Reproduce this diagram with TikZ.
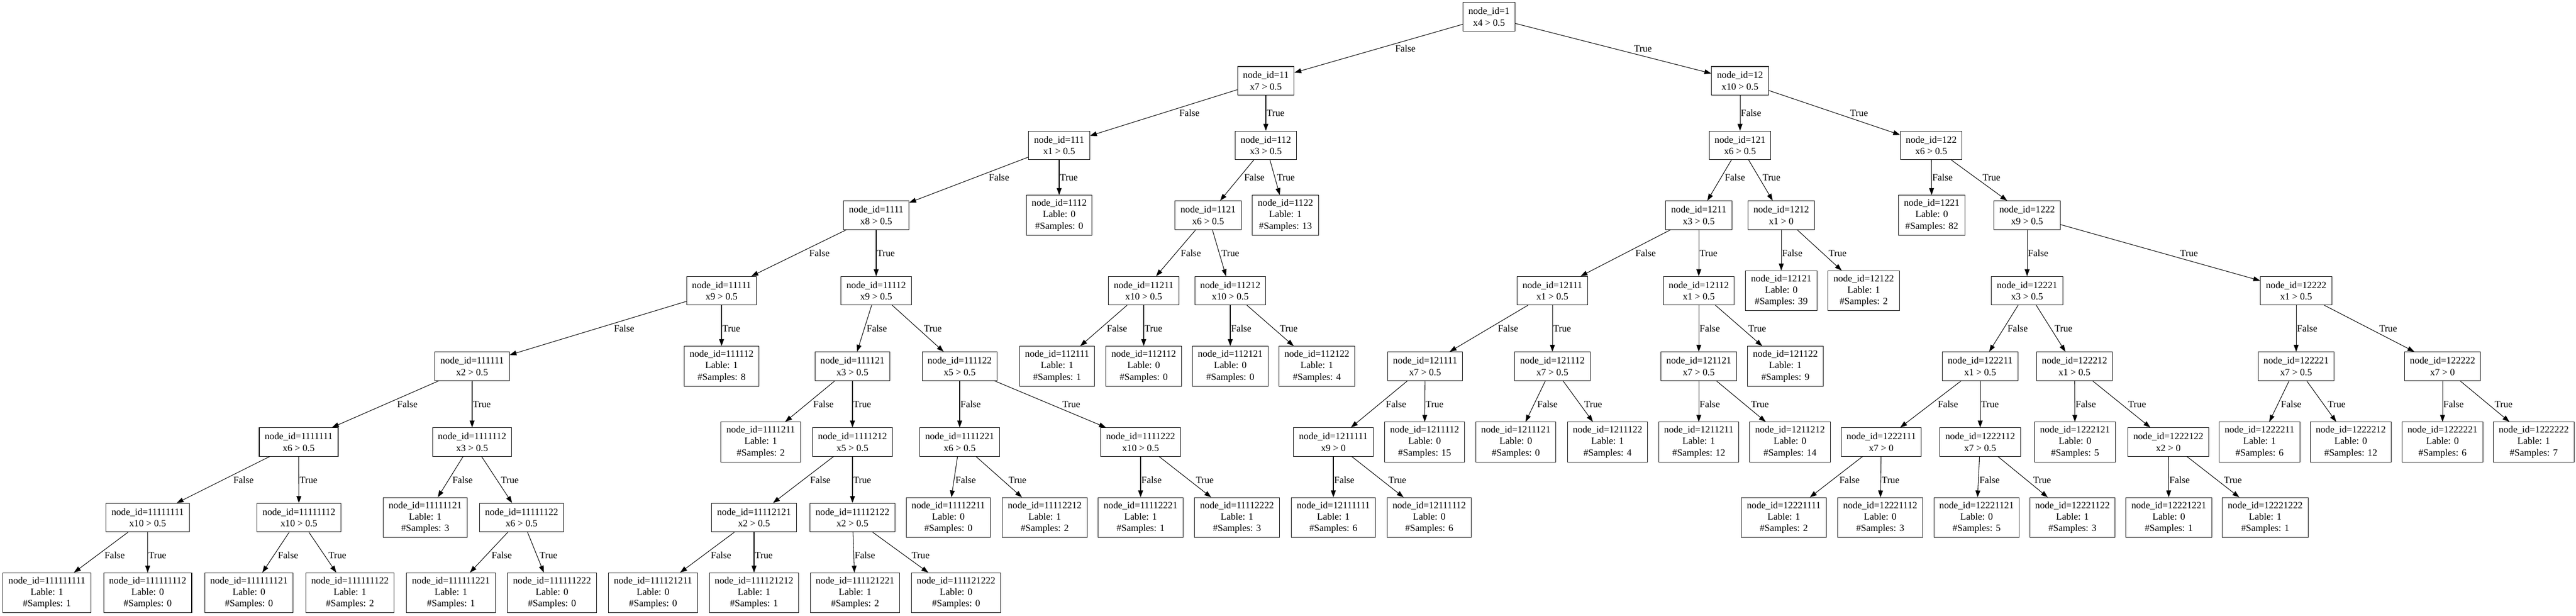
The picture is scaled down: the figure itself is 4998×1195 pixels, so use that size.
\documentclass[tikz,border=0pt]{standalone}
\usepackage{fontspec}
\setmainfont{Liberation Serif}
\usetikzlibrary{arrows.meta,calc}
\tikzset{
  tbox/.style={draw, line width=0.8pt, rectangle, align=center, inner xsep=7.92pt, inner ysep=0pt, font=\fontsize{14}{16.8}\selectfont},
  dec/.style={tbox, minimum height=41.5pt},
  leaf/.style={tbox, minimum height=58pt},
  edge/.style={draw, line width=0.8pt, -{Triangle[length=10pt,width=7pt]}},
  lbl/.style={inner sep=0pt, font=\fontsize{14}{16.8}\selectfont, anchor=west}
}
\newcommand\DNode[4]{\node[dec] (n#1) at (#2,#3) {node\_id=#1\\#4};}
\newcommand\LNode[5]{\node[leaf] (n#1) at (#2,#3) {node\_id=#1\\Lable: #4\\\#Samples: #5};}
\newcommand\TEdge[4]{%
  \draw[edge] (n#1) -- (n#2);
  \path let \p1=(n#1.center), \p2=(n#2.center),
    \n1={-0.75pt*#4},
    \n2={\x1+((\n1+7)-\y1)/(\y2-\y1)*(\x2-\x1)},
    \n3={\x1+((\n1-7)-\y1)/(\y2-\y1)*(\x2-\x1)},
    \n4={max(\n2,\n3)+1}
  in node[lbl] at (\n4,\n1) {#3};
}
\newcommand\Split[4]{\TEdge{#1}{#2}{False}{#4}\TEdge{#1}{#3}{True}{#4}}
\begin{document}
\begin{tikzpicture}[x=0.75pt,y=-0.75pt]
\useasboundingbox (0,0) rectangle (4998,1195);
\def\ya{32.5}\def\yb{156.7}\def\yc{282}\def\yd{417.5}\def\ye{564}\def\yf{710.5}\def\yg{857.5}\def\yh{1004}\def\yi{1150}
% rank 0
\DNode{1}{2889}{\ya}{x4 > 0.5}
% rank 1
\DNode{11}{2456}{\yb}{x7 > 0.5}
\DNode{12}{3376}{\yb}{x10 > 0.5}
% rank 2
\DNode{111}{2055}{\yc}{x1 > 0.5}
\DNode{112}{2456}{\yc}{x3 > 0.5}
\DNode{121}{3376}{\yc}{x6 > 0.5}
\DNode{122}{3747}{\yc}{x6 > 0.5}
% rank 3
\DNode{1111}{1700}{\yd}{x8 > 0.5}
\LNode{1112}{2055}{\yd}{0}{0}
\DNode{1121}{2344}{\yd}{x6 > 0.5}
\LNode{1122}{2494}{\yd}{1}{13}
\DNode{1211}{3296}{\yd}{x3 > 0.5}
\DNode{1212}{3456}{\yd}{x1 > 0}
\LNode{1221}{3748}{\yd}{0}{82}
\DNode{1222}{3933}{\yd}{x9 > 0.5}
% rank 4
\DNode{11111}{1400}{\ye}{x9 > 0.5}
\DNode{11112}{1700}{\ye}{x9 > 0.5}
\DNode{11211}{2219}{\ye}{x10 > 0.5}
\DNode{11212}{2387}{\ye}{x10 > 0.5}
\DNode{12111}{3012}{\ye}{x1 > 0.5}
\DNode{12112}{3296}{\ye}{x1 > 0.5}
\LNode{12121}{3456}{\ye}{0}{39}
\LNode{12122}{3616}{\ye}{1}{2}
\DNode{12221}{3933}{\ye}{x3 > 0.5}
\DNode{12222}{4455}{\ye}{x1 > 0.5}
% rank 5
\DNode{111111}{916}{\yf}{x2 > 0.5}
\LNode{111112}{1400}{\yf}{1}{8}
\DNode{111121}{1654}{\yf}{x3 > 0.5}
\DNode{111122}{1862}{\yf}{x5 > 0.5}
\LNode{112111}{2051}{\yf}{1}{1}
\LNode{112112}{2219}{\yf}{0}{0}
\LNode{112121}{2387}{\yf}{0}{0}
\LNode{112122}{2555}{\yf}{1}{4}
\DNode{121111}{2765}{\yf}{x7 > 0.5}
\DNode{121112}{3012}{\yf}{x7 > 0.5}
\DNode{121121}{3296}{\yf}{x7 > 0.5}
\LNode{121122}{3464}{\yf}{1}{9}
\DNode{122211}{3842}{\yf}{x1 > 0.5}
\DNode{122212}{4025}{\yf}{x1 > 0.5}
\DNode{122221}{4455}{\yf}{x7 > 0.5}
\DNode{122222}{4739}{\yf}{x7 > 0}
% rank 6
\DNode{1111111}{579.5}{\yg}{x6 > 0.5}
\DNode{1111112}{916}{\yg}{x3 > 0.5}
\LNode{1111211}{1476}{\yg}{1}{2}
\DNode{1111212}{1654}{\yg}{x5 > 0.5}
\DNode{1111221}{1862}{\yg}{x6 > 0.5}
\DNode{1111222}{2213}{\yg}{x10 > 0.5}
\DNode{1211111}{2587}{\yg}{x9 > 0}
\LNode{1211112}{2764}{\yg}{0}{15}
\LNode{1211121}{2941}{\yg}{0}{0}
\LNode{1211122}{3119}{\yg}{1}{4}
\LNode{1211211}{3296}{\yg}{1}{12}
\LNode{1211212}{3473}{\yg}{0}{14}
\DNode{1222111}{3650}{\yg}{x7 > 0}
\DNode{1222112}{3842}{\yg}{x7 > 0.5}
\LNode{1222121}{4026}{\yg}{0}{5}
\DNode{1222122}{4207}{\yg}{x2 > 0}
\LNode{1222211}{4384}{\yg}{1}{6}
\LNode{1222212}{4561}{\yg}{0}{12}
\LNode{1222221}{4739}{\yg}{0}{6}
\LNode{1222222}{4916}{\yg}{1}{7}
% rank 7
\DNode{11111111}{286.5}{\yh}{x10 > 0.5}
\DNode{11111112}{580}{\yh}{x10 > 0.5}
\LNode{11111121}{825}{\yh}{1}{3}
\DNode{11111122}{1012}{\yh}{x6 > 0.5}
\DNode{11112121}{1463}{\yh}{x2 > 0.5}
\DNode{11112122}{1654}{\yh}{x2 > 0.5}
\LNode{11112211}{1840}{\yh}{0}{0}
\LNode{11112212}{2027}{\yh}{1}{2}
\LNode{11112221}{2213}{\yh}{1}{1}
\LNode{11112222}{2400}{\yh}{1}{3}
\LNode{12111111}{2587}{\yh}{1}{6}
\LNode{12111112}{2773}{\yh}{0}{6}
\LNode{12221111}{3461}{\yh}{1}{2}
\LNode{12221112}{3648}{\yh}{0}{3}
\LNode{12221121}{3835}{\yh}{0}{5}
\LNode{12221122}{4021}{\yh}{1}{3}
\LNode{12221221}{4208}{\yh}{0}{1}
\LNode{12221222}{4395}{\yh}{1}{1}
% rank 8
\LNode{111111111}{91}{\yi}{1}{1}
\LNode{111111112}{286.5}{\yi}{0}{0}
\LNode{111111121}{483}{\yi}{0}{0}
\LNode{111111122}{679}{\yi}{1}{2}
\LNode{111111221}{875}{\yi}{1}{1}
\LNode{111111222}{1071}{\yi}{0}{0}
\LNode{111121211}{1267}{\yi}{0}{0}
\LNode{111121212}{1463}{\yi}{1}{1}
\LNode{111121221}{1659}{\yi}{1}{2}
\LNode{111121222}{1855}{\yi}{0}{0}
% edges
\Split{1}{11}{12}{94.5}
\Split{11}{111}{112}{219}
\Split{12}{121}{122}{219}
\Split{111}{1111}{1112}{344}
\Split{112}{1121}{1122}{344}
\Split{121}{1211}{1212}{344}
\Split{122}{1221}{1222}{344}
\Split{1111}{11111}{11112}{491}
\Split{1121}{11211}{11212}{491}
\Split{1211}{12111}{12112}{491}
\Split{1212}{12121}{12122}{491}
\Split{1222}{12221}{12222}{491}
\Split{11111}{111111}{111112}{637}
\Split{11112}{111121}{111122}{637}
\Split{11211}{112111}{112112}{637}
\Split{11212}{112121}{112122}{637}
\Split{12111}{121111}{121112}{637}
\Split{12112}{121121}{121122}{637}
\Split{12221}{122211}{122212}{637}
\Split{12222}{122221}{122222}{637}
\Split{111111}{1111111}{1111112}{784}
\Split{111121}{1111211}{1111212}{784}
\Split{111122}{1111221}{1111222}{784}
\Split{121111}{1211111}{1211112}{784}
\Split{121112}{1211121}{1211122}{784}
\Split{121121}{1211211}{1211212}{784}
\Split{122211}{1222111}{1222112}{784}
\Split{122212}{1222121}{1222122}{784}
\Split{122221}{1222211}{1222212}{784}
\Split{122222}{1222221}{1222222}{784}
\Split{1111111}{11111111}{11111112}{931}
\Split{1111112}{11111121}{11111122}{931}
\Split{1111212}{11112121}{11112122}{931}
\Split{1111221}{11112211}{11112212}{931}
\Split{1111222}{11112221}{11112222}{931}
\Split{1211111}{12111111}{12111112}{931}
\Split{1222111}{12221111}{12221112}{931}
\Split{1222112}{12221121}{12221122}{931}
\Split{1222122}{12221221}{12221222}{931}
\Split{11111111}{111111111}{111111112}{1077}
\Split{11111112}{111111121}{111111122}{1077}
\Split{11111122}{111111221}{111111222}{1077}
\Split{11112121}{111121211}{111121212}{1077}
\Split{11112122}{111121221}{111121222}{1077}
\end{tikzpicture}
\end{document}
